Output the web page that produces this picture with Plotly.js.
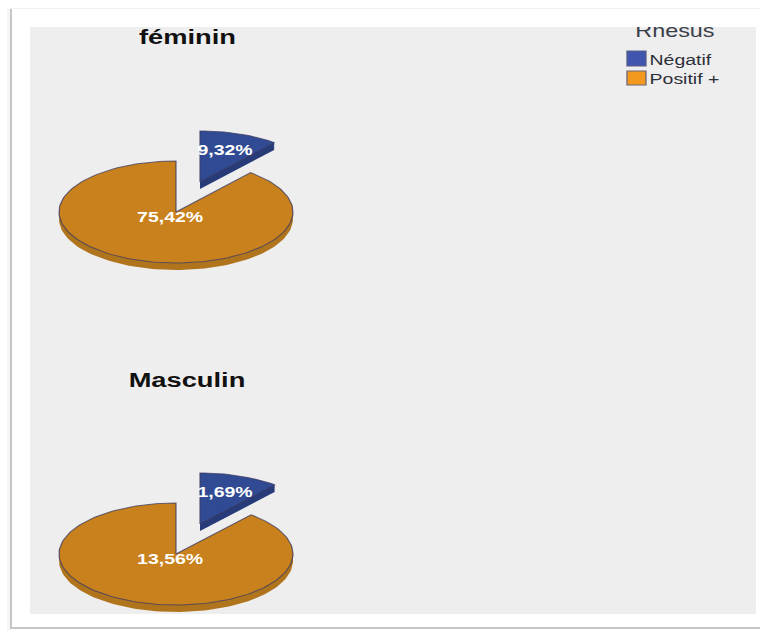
<!DOCTYPE html>
<html>
<head>
<meta charset="utf-8">
<script src="https://cdn.plot.ly/plotly-3.0.1.min.js"></script>
<style>
  html, body { margin: 0; padding: 0; background: #fff; overflow: hidden; }
  #wrap { position: relative; width: 760px; height: 631px; overflow: hidden; }
  /* The export is widened horizontally, text included */
  #chart { position: absolute; left: 0; top: 0; width: 585px; height: 631px;
           transform: scaleX(1.2991); transform-origin: 0 0; }
  #strip { position: absolute; left: 30px; top: 10px; width: 727px; height: 17px; background: #fff; }
</style>
</head>
<body>
<div id="wrap">
  <div id="chart"></div>
  <div id="strip"></div>
</div>
<script>
// Rhesus share by sex
const sexes = ['féminin', 'Masculin'];
const rhesusLevels = ['Négatif', 'Positif +'];
const negatifValues = [9.32, 1.69];
const positifValues = [75.42, 13.56];
const legendTitle = 'Rhesus';

const topColors = ['#304a94', '#c8811c'];
const sideColors = ['#263b78', '#b0741d'];
const swatchColors = ['#3f55ae', '#f39a1e'];
const edgeColor = 'rgba(60,60,100,0.75)';

const W = 760, H = 631, SPLIT = 316;
const RX = 117, RY = 51;
const pieCentres = [212, 554];   // page y of each pie centre
const CX = 176;
const explode = { x: 24 / RX, y: 30 / RY };
const depth = 7 / RY;

const fmt = v => v.toFixed(2).replace('.', ',') + '%';

// Outline of a slice between two clockwise angles measured from 12 o'clock
function wedge(a0, a1, dx, dy) {
  const xs = [dx], ys = [dy];
  const n = Math.max(8, Math.round((a1 - a0) / (Math.PI / 90)));
  for (let i = 0; i <= n; i++) {
    const t = a0 + (a1 - a0) * i / n;
    xs.push(dx + Math.sin(t));
    ys.push(dy + Math.cos(t));
  }
  xs.push(dx); ys.push(dy);
  return { xs, ys };
}

// Stacked copies below the slice give the extruded rim
function rim(a0, a1, dx, dy) {
  const xs = [], ys = [];
  for (let k = 1; k <= 10; k++) {
    const w = wedge(a0, a1, dx, dy - depth * k / 10);
    xs.push(...w.xs, null);
    ys.push(...w.ys, null);
  }
  return { xs, ys };
}

const traces = [];
sexes.forEach((sex, i) => {
  const axisX = i === 0 ? 'x' : 'x2';
  const axisY = i === 0 ? 'y' : 'y2';
  const total = negatifValues[i] + positifValues[i];
  const split = 2 * Math.PI * negatifValues[i] / total;
  const parts = [
    { a0: 0, a1: split, dx: explode.x, dy: explode.y, lx: 0.419, ly: 1.2, v: negatifValues[i], c: 0 },
    { a0: split, a1: 2 * Math.PI, dx: 0, dy: 0, lx: -0.05, ly: -0.12, v: positifValues[i], c: 1 }
  ];
  parts.forEach(p => {
    const r = rim(p.a0, p.a1, p.dx, p.dy);
    traces.push({
      x: r.xs, y: r.ys, xaxis: axisX, yaxis: axisY, mode: 'lines', fill: 'toself',
      fillcolor: sideColors[p.c], line: { width: 0, color: sideColors[p.c] },
      hoverinfo: 'skip', showlegend: false
    });
    const f = wedge(p.a0, p.a1, p.dx, p.dy);
    traces.push({
      x: f.xs, y: f.ys, xaxis: axisX, yaxis: axisY, mode: 'lines', fill: 'toself',
      fillcolor: topColors[p.c], line: { width: 1, color: edgeColor },
      name: sex + ' – ' + rhesusLevels[p.c], hoverinfo: 'name', showlegend: false
    });
  });
  parts.forEach(p => {
    traces.push({
      x: [p.lx], y: [p.ly], xaxis: axisX, yaxis: axisY, mode: 'text',
      text: [fmt(p.v)], textposition: 'middle center', cliponaxis: false,
      textfont: { family: 'Liberation Sans', size: 15, color: '#ffffff', weight: 700 },
      hoverinfo: 'skip', showlegend: false
    });
  });
});

// Each pie gets axes that map the unit circle to a flattened ellipse
function xRange() { return [(0 - CX) / RX, (W - CX) / RX]; }
function yRange(centre, top, bottom) { return [(centre - bottom) / RY, (centre - top) / RY]; }
const hidden = { visible: false, fixedrange: true };

const px = v => v / W, py = v => 1 - v / H;

const annotations = [
  { text: sexes[0], x: px(188), y: py(36), font: { size: 21, color: '#111111', weight: 700 } },
  { text: sexes[1], x: px(187.5), y: py(379), font: { size: 21, color: '#111111', weight: 700 } },
  { text: legendTitle, x: px(675), y: py(31), font: { size: 18, color: '#3a3f4a' } },
  { text: rhesusLevels[0], x: px(647), y: py(60), xanchor: 'left', font: { size: 15, color: '#2c2f38' } },
  { text: rhesusLevels[1], x: px(647), y: py(78), xanchor: 'left', font: { size: 15, color: '#2c2f38' } }
].map(a => Object.assign({ xref: 'paper', yref: 'paper', showarrow: false, xanchor: 'center', yanchor: 'middle' }, a));

function rect(x0, y0, x1, y1, fill, lineColor) {
  return { type: 'rect', xref: 'paper', yref: 'paper', layer: 'below',
    x0: px(x0), x1: px(x1), y0: py(y0), y1: py(y1),
    fillcolor: fill, line: { width: lineColor ? 1 : 0, color: lineColor || fill } };
}

const shapes = [
  rect(7, 9, 11, 631, '#f6f6f6'),            // soft shadow left of the frame
  rect(10, 8, 760, 9, '#f1f1f1'),            // faint top edge
  rect(10, 9, 12, 629, '#c6c6c6'),           // left edge of the frame
  rect(10, 627, 760, 629, '#c6c6c6'),        // bottom edge of the frame
  rect(30, 27, 756, 614, '#eeeeee'),         // plot panel
  Object.assign(rect(627, 51, 646, 66, swatchColors[0], '#5a5f86'), { layer: 'above' }),
  Object.assign(rect(627, 71, 646, 85, swatchColors[1], '#6b6577'), { layer: 'above' })
];

const layout = {
  width: 585, height: 631,
  margin: { l: 0, r: 0, t: 0, b: 0 },
  paper_bgcolor: '#ffffff',
  plot_bgcolor: 'rgba(0,0,0,0)',
  showlegend: false,
  font: { family: 'Liberation Sans' },
  xaxis: Object.assign({ range: xRange(), domain: [0, 1] }, hidden),
  yaxis: Object.assign({ range: yRange(pieCentres[0], 0, SPLIT), domain: [1 - SPLIT / H, 1] }, hidden),
  xaxis2: Object.assign({ range: xRange(), domain: [0, 1], anchor: 'y2' }, hidden),
  yaxis2: Object.assign({ range: yRange(pieCentres[1], SPLIT, H), domain: [0, 1 - SPLIT / H], anchor: 'x2' }, hidden),
  annotations, shapes
};

Plotly.newPlot('chart', traces, layout, { displayModeBar: false, staticPlot: true });
</script>
</body>
</html>
